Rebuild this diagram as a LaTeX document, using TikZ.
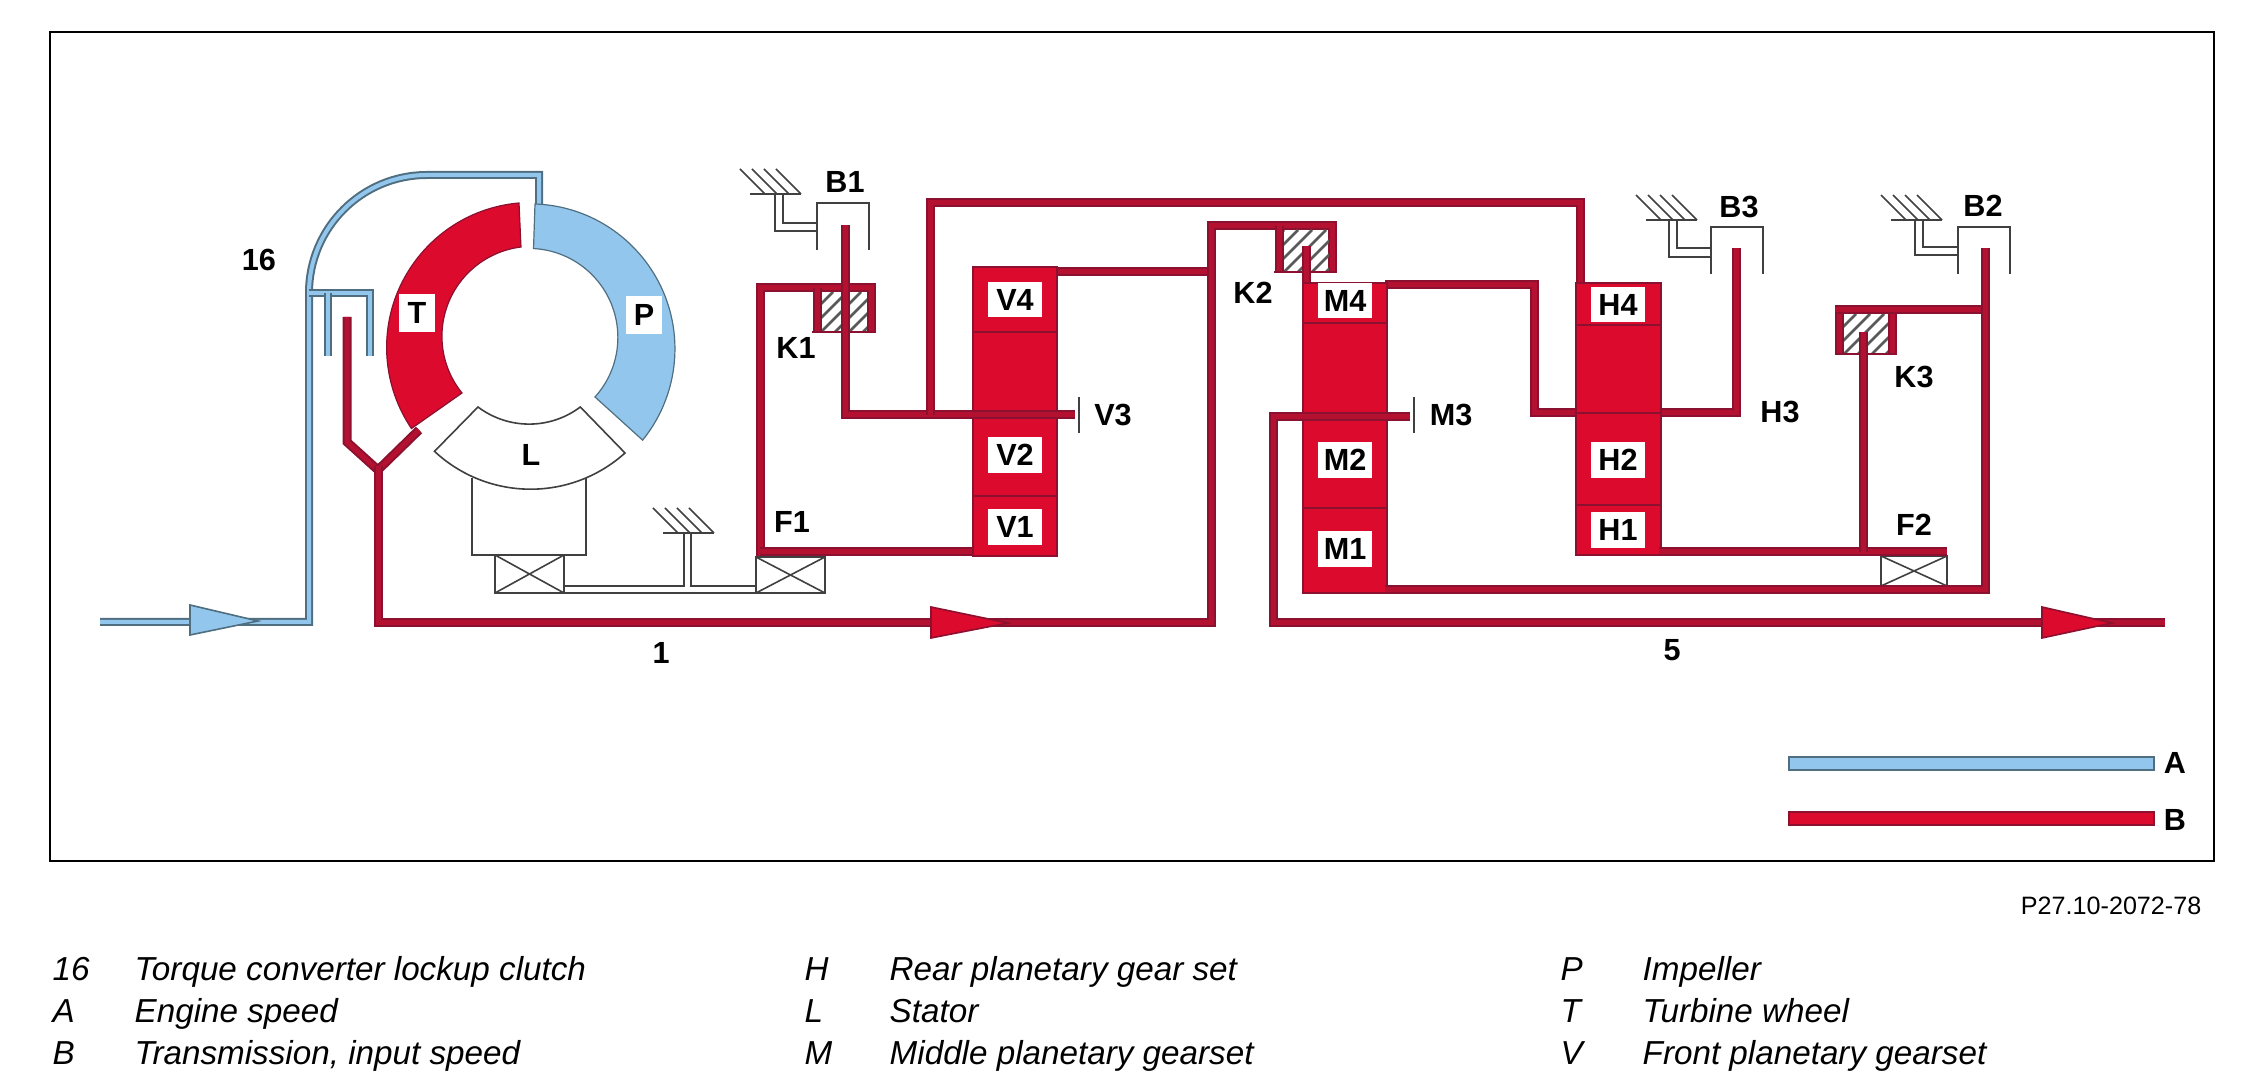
\documentclass[tikz,border=0pt]{standalone}
\usepackage{fontspec}
\setmainfont{Liberation Sans}
\definecolor{pipedark}{HTML}{8C1030}
\definecolor{pipered}{HTML}{B4102F}
\definecolor{gearred}{HTML}{DC0A2C}
\definecolor{bluedark}{HTML}{4F6F80}
\definecolor{bluefill}{HTML}{93C6EC}
\tikzset{
  redpipe/.style={draw=pipedark,line width=0.02cm,double=pipered,double distance=0.05cm},
  bluepipe/.style={draw=bluedark,line width=0.02cm,double=bluefill,double distance=0.04cm},
  thinline/.style={draw=black!75,line width=0.016cm},
  gearblock/.style={fill=gearred,draw=pipedark,line width=0.025cm},
  gearline/.style={draw=pipedark,line width=0.02cm},
  partlabel/.style={inner sep=0pt,font=\fontsize{8.7}{10}\selectfont\bfseries},
  boxlabel/.style={partlabel,fill=white,minimum width=0.54cm,minimum height=0.35cm},
  ringlabel/.style={partlabel,fill=white,minimum width=0.35cm,minimum height=0.37cm},
  legendtext/.style={anchor=base west,inner sep=0pt,font=\fontsize{9.45}{11}\selectfont\itshape},
}
\begin{document}
\begin{tikzpicture}[x=0.01cm,y=0.01cm,yscale=-1]
\useasboundingbox (0,0) rectangle (2260,1080);
\draw[line width=0.022cm] (50,32) rectangle (2214,861);

% converter
\draw[bluepipe] (100,622) -- (309,622) -- (309,293) arc[start angle=180,end angle=270,radius=118] -- (539,175) -- (539,206);
\draw[bluepipe] (309,293) -- (370,293) -- (370,356);
\draw[bluepipe] (328,293) -- (328,356);
\filldraw[fill=gearred,draw=pipedark,line width=0.012cm] (519,203) arc[start angle=265,end angle=146,radius=145] -- (462,393) arc[start angle=141,end angle=263,radius=90] -- cycle;
\filldraw[fill=bluefill,draw=bluedark,line width=0.012cm] (535,204) arc[start angle=-88,end angle=39,radius=145] -- (595,397) arc[start angle=42,end angle=-87,radius=89] -- cycle;
\draw[thinline] (472,478) -- (472,555) -- (586,555) -- (586,478);
\filldraw[thinline,fill=white] (478,407) arc[start angle=127,end angle=53,radius=85] -- (625,453) arc[start angle=48,end angle=133,radius=141] -- cycle;
\draw[redpipe] (347,317) -- (347,442) -- (378,470);
\draw[redpipe] (419,430) -- (378,470);
\draw[redpipe] (378,466) -- (378,623) -- (1211,623) -- (1211,226) -- (1332,226) -- (1332,273);

% one way clutches
\foreach \fx/\fy/\fw/\fh in {495/555/69/38,756/557/69/36,1881/556/66/30}{
  \draw[thinline] (\fx,\fy) rectangle ++(\fw,\fh);
  \draw[thinline] (\fx,\fy) -- ++(\fw,\fh);
  \draw[thinline] (\fx+\fw,\fy) -- ++(-\fw,\fh);
}
\draw[thinline] (564,586) -- (684,586) -- (684,533);
\draw[thinline] (756,593) -- (564,593);
\draw[thinline] (756,586) -- (691,586) -- (691,533);

% grounds
\foreach \gx/\gy in {653/508,740/169,1636/195,1881/195}{
  \foreach \k in {0,1,2,3}
    \draw[thinline] (\gx+\k*12,\gy) -- ++(25,25);
  \draw[thinline,line width=0.025cm] (\gx+10,\gy+25) -- ++(51,0);
}
\draw[thinline] (775,194) -- (775,231) -- (817,231);
\draw[thinline] (783,194) -- (783,223) -- (817,223);
\draw[thinline] (1669,220) -- (1669,257) -- (1711,257);
\draw[thinline] (1677,220) -- (1677,248) -- (1711,248);
\draw[thinline] (1915,220) -- (1915,255) -- (1958,255);
\draw[thinline] (1923,220) -- (1923,247) -- (1958,247);

% brake cups
\foreach \cx/\cy in {817/203,1711/227,1958/227}
  \draw[thinline] (\cx,\cy+47) -- (\cx,\cy) -- ++(52,0) -- ++(0,47);

% clutch hatching
\foreach \hx/\hy/\hw/\hh in {821/292/48/40,1283/230/46/43,1843/314/46/41}{
  \begin{scope}
    \clip (\hx,\hy) rectangle ++(\hw,\hh);
    \foreach \k in {-4,...,6}
      \draw[black!65,line width=0.028cm] (\hx+\k*14,\hy+\hh) -- ++(\hh,-\hh);
  \end{scope}
}
\draw[redpipe] (760,556) -- (760,288) -- (871,288) -- (871,332);
\draw[redpipe] (817,288) -- (817,332);
\draw[gearline] (812,332) -- (876,332);
\draw[redpipe] (1279,226) -- (1279,273);
\draw[gearline] (1274,272) -- (1336,272);
\draw[redpipe] (1839,306) -- (1839,355);
\draw[redpipe] (1892,310) -- (1892,355);
\draw[gearline] (1835,354) -- (1896,354);
\draw[redpipe] (1835,310) -- (1985,310);

% gear sets
\draw[redpipe] (760,552) -- (975,552);
\draw[redpipe] (1055,272) -- (1207,272);
\filldraw[gearblock] (973,267) rectangle (1057,556);
\draw[gearline] (973,332) -- (1057,332);
\draw[gearline] (973,496) -- (1057,496);
\draw[redpipe] (845,225) -- (845,415) -- (1075,415);
\draw[redpipe] (930,415) -- (930,203) -- (1580,203) -- (1580,285);

\draw[redpipe] (1306,246) -- (1306,285);
\draw[redpipe] (1385,285) -- (1534,285) -- (1534,413) -- (1736,413) -- (1736,248);
\filldraw[gearblock] (1303,283) rectangle (1387,593);
\draw[gearline] (1303,323) -- (1387,323);
\draw[gearline] (1303,508) -- (1387,508);
\draw[redpipe] (1410,417) -- (1273,417) -- (1273,623) -- (2165,623);
\draw[redpipe] (1385,590) -- (1985,590) -- (1985,248);

\filldraw[gearblock] (1576,283) rectangle (1661,555);
\draw[gearline] (1576,325) -- (1661,325);
\draw[gearline] (1576,505) -- (1661,505);
\draw[gearline] (1576,413) -- (1661,413);
\draw[redpipe] (1659,552) -- (1947,552);
\draw[redpipe] (1863,552) -- (1863,332);

\draw[thinline,line width=0.02cm] (1079,397) -- (1079,433);
\draw[thinline,line width=0.02cm] (1414,397) -- (1414,433);

% flow arrows
\filldraw[fill=bluefill,draw=bluedark,line width=0.016cm] (190,605) -- (258,621) -- (190,635) -- cycle;
\filldraw[fill=gearred,draw=pipedark,line width=0.016cm] (931,607) -- (1008,623) -- (931,638) -- cycle;
\filldraw[fill=gearred,draw=pipedark,line width=0.016cm] (2042,607) -- (2112,623) -- (2042,638) -- cycle;

% labels in boxes
\node[ringlabel] (lT) at (417,313) {T};
\node[ringlabel] (lP) at (644,315) {P};
\foreach \lname/\lx/\ly/\ltext in {lV4/1015/300/V4,lV2/1015/455/V2,lV1/1015/527/V1,lM4/1345/301/M4,lM2/1345/460/M2,lM1/1345/549/M1,lH4/1618/305/H4,lH2/1618/460/H2,lH1/1618/530/H1}
  \node[boxlabel] (\lname) at (\lx,\ly) {\ltext};

% free labels
\foreach \lname/\lx/\ly/\ltext in {l16/259/260/16,lL/531/455/L,lB1/845/182/B1,lK1/796/348/K1,lF1/792/522/F1,lV3/1113/415/V3,lK2/1253/293/K2,lM3/1451/415/M3,lB3/1739/207/B3,lH3/1780/412/H3,lB2/1983/206/B2,lK3/1914/377/K3,lF2/1914/525/F2,lone/661/653/1,lfive/1672/650/5,lA/2175/763/A,lB/2175/820/B}
  \node[partlabel] (\lname) at (\lx,\ly) {\ltext};

% key
\draw[bluedark,fill=bluefill,line width=0.02cm] (1789,757) rectangle (2154,770);
\fill[gearred,draw=pipedark,line width=0.02cm] (1789,812) rectangle (2154,825);
\node[inner sep=0pt,anchor=base east,font=\fontsize{7.15}{9}\selectfont] (code) at (2202,915) {P27.10-2072-78};

\node[legendtext] (k16) at (52,981) {16};
\node[legendtext] (kA) at (52,1023) {A};
\node[legendtext] (kB) at (52,1065) {B};
\node[legendtext] (t16) at (134,981) {Torque converter lockup clutch};
\node[legendtext] (tA) at (134,1023) {Engine speed};
\node[legendtext] (tB) at (134,1065) {Transmission, input speed};
\node[legendtext] (kH) at (804,981) {H};
\node[legendtext] (kL) at (804,1023) {L};
\node[legendtext] (kM) at (804,1065) {M};
\node[legendtext] (tH) at (889,981) {Rear planetary gear set};
\node[legendtext] (tL) at (889,1023) {Stator};
\node[legendtext] (tM) at (889,1065) {Middle planetary gearset};
\node[legendtext] (kP) at (1560,981) {P};
\node[legendtext] (kT) at (1560,1023) {T};
\node[legendtext] (kV) at (1560,1065) {V};
\node[legendtext] (tP) at (1642,981) {Impeller};
\node[legendtext] (tT) at (1642,1023) {Turbine wheel};
\node[legendtext] (tV) at (1642,1065) {Front planetary gearset};
\end{tikzpicture}
\end{document}
